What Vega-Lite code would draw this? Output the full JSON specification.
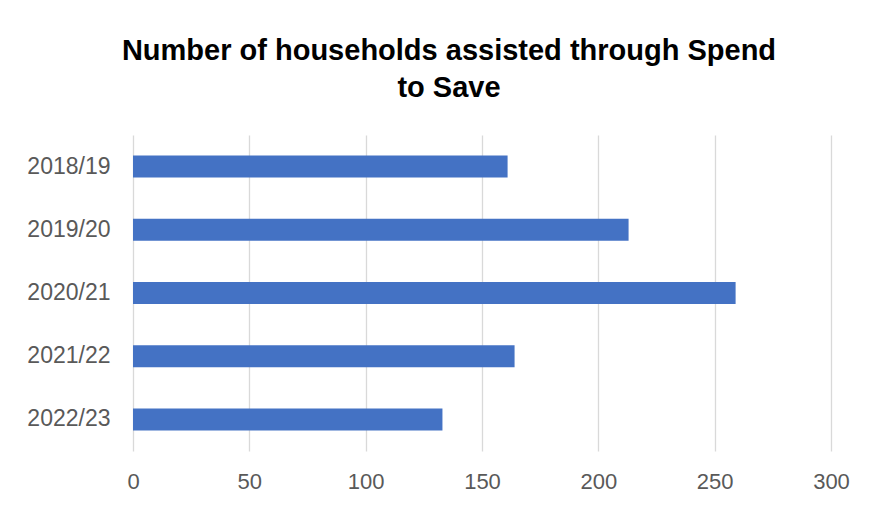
{
  "$schema": "https://vega.github.io/schema/vega-lite/v6.json",
  "autosize": "none",
  "width": 698,
  "height": 316,
  "padding": {"left": 133, "top": 135, "right": 41, "bottom": 55},
  "background": "white",
  "title": {
    "text": ["Number of households assisted through Spend", "to Save"],
    "font": "Liberation Sans",
    "fontSize": 29,
    "fontWeight": "bold",
    "color": "#000000",
    "lineHeight": 37,
    "anchor": "middle",
    "dx": -33,
    "offset": 32
  },
  "data": {
    "values": [
      {"year": "2018/19", "households": 161},
      {"year": "2019/20", "households": 213},
      {"year": "2020/21", "households": 259},
      {"year": "2021/22", "households": 164},
      {"year": "2022/23", "households": 133}
    ]
  },
  "mark": {"type": "bar", "color": "#4472C4"},
  "encoding": {
    "y": {
      "field": "year",
      "type": "nominal",
      "sort": null,
      "scale": {"paddingInner": 0.652, "paddingOuter": 0.326},
      "axis": {
        "title": null,
        "domain": false,
        "ticks": false,
        "labelPadding": 23,
        "labelFont": "Liberation Sans",
        "labelFontSize": 23,
        "labelColor": "#595959"
      }
    },
    "x": {
      "field": "households",
      "type": "quantitative",
      "scale": {"domain": [0, 300], "nice": false},
      "axis": {
        "title": null,
        "values": [0, 50, 100, 150, 200, 250, 300],
        "domain": false,
        "ticks": false,
        "grid": true,
        "gridColor": "#D9D9D9",
        "gridWidth": 1.3,
        "labelFlush": false,
        "labelPadding": 20,
        "labelFont": "Liberation Sans",
        "labelFontSize": 22,
        "labelColor": "#595959"
      }
    }
  },
  "config": {"view": {"stroke": null}}
}
